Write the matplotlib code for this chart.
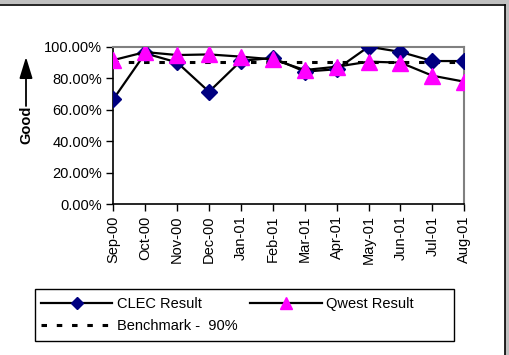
import matplotlib
matplotlib.use("Agg")
import matplotlib.pyplot as plt
from matplotlib.lines import Line2D
from matplotlib.patches import Rectangle
from matplotlib.ticker import FuncFormatter

months = ["Sep-00", "Oct-00", "Nov-00", "Dec-00", "Jan-01", "Feb-01",
          "Mar-01", "Apr-01", "May-01", "Jun-01", "Jul-01", "Aug-01"]
clec_result = [66.67, 95.8, 90.0, 71.43, 91.0, 92.86,
               84.2, 85.7, 100.0, 96.7, 90.9, 90.9]
qwest_result = [91.5, 96.6, 94.7, 95.1, 93.7, 92.0,
                85.2, 87.3, 90.5, 89.9, 81.6, 77.8]
benchmark = 90.0
y_ticks = [0, 20, 40, 60, 80, 100]

W, H = 509, 355
plt.rcParams["font.family"] = ["Liberation Sans", "DejaVu Sans"]

fig = plt.figure(figsize=(W / 100, H / 100), dpi=100)
fig.patch.set_facecolor("white")

# grey surround along the top and right edges, with the dark frame line
fig.patches.append(Rectangle((0, 1 - 4 / H), 1, 4 / H, transform=fig.transFigure,
                             facecolor="#c0c0c0", edgecolor="none", zorder=0))
fig.patches.append(Rectangle((1 - 4 / W, 0), 4 / W, 1, transform=fig.transFigure,
                             facecolor="#c0c0c0", edgecolor="none", zorder=0))
fig.lines.append(Line2D([0, 1 - 4.5 / W], [1 - 4.5 / H, 1 - 4.5 / H],
                        transform=fig.transFigure, color="black", lw=1.2))
fig.lines.append(Line2D([1 - 4.5 / W, 1 - 4.5 / W], [0, 1 - 4.5 / H],
                        transform=fig.transFigure, color="black", lw=1.2))

left, right, top, bottom = 113.3, 464.3, 46.7, 204.3
ax = fig.add_axes([left / W, 1 - bottom / H, (right - left) / W, (bottom - top) / H])

x = list(range(len(months)))
ax.plot(x, [benchmark] * len(x), color="black", lw=2.2,
        linestyle=(0, (1.8, 3.2)), zorder=2, label="Benchmark -  90%")
ax.plot(x, clec_result, color="black", lw=1.6, marker="D", markersize=8,
        markerfacecolor="#000080", markeredgecolor="#000080", zorder=3,
        label="CLEC Result")
ax.plot(x, qwest_result, color="black", lw=1.6, marker="^", markersize=11,
        markerfacecolor="#ff00ff", markeredgecolor="#ff00ff", zorder=4,
        label="Qwest Result")

ax.set_xlim(0, len(x) - 1)
ax.set_ylim(0, 100)
ax.set_yticks(y_ticks)
ax.yaxis.set_major_formatter(FuncFormatter(lambda v, p: f"{v:.2f}%"))
ax.set_xticks(x)
ax.set_xticklabels(months, rotation=90)
ax.tick_params(axis="both", labelsize=10.5, colors="black", length=5, width=1, pad=3)

for side in ("top", "right"):
    ax.spines[side].set_color("#808080")
    ax.spines[side].set_linewidth(1.5)
for side in ("left", "bottom"):
    ax.spines[side].set_color("black")
    ax.spines[side].set_linewidth(1.2)
for sp in ax.spines.values():
    sp.set_clip_on(False)

# "Good" direction indicator
fig.text(26 / W, 1 - 125 / H, "Good", rotation=90, fontsize=10.5, fontweight="bold",
         ha="center", va="center")
ax.annotate("", xy=(26, H - 57), xytext=(26, H - 106), xycoords="figure pixels",
            textcoords="figure pixels",
            arrowprops=dict(arrowstyle="-|>,head_length=1.3,head_width=0.4",
                            color="black", lw=1.3, shrinkA=0, shrinkB=0))

# legend box
box_l, box_t, box_r, box_b = 35, 289, 454, 341
fig.patches.append(Rectangle((box_l / W, 1 - box_b / H), (box_r - box_l) / W,
                             (box_b - box_t) / H, transform=fig.transFigure,
                             facecolor="white", edgecolor="black", lw=1.0, zorder=1))

handles, labels = ax.get_legend_handles_labels()
order = [1, 0, 2]
leg = fig.legend([handles[i] for i in order], [labels[i] for i in order],
                 loc="center left",
                 bbox_to_anchor=(box_l / W, 1 - box_b / H, (box_r - box_l) / W,
                                 (box_b - box_t) / H),
                 ncol=2, fontsize=10.5, frameon=False, markerscale=0.75,
                 handlelength=4.9, handletextpad=0.3, borderaxespad=0,
                 borderpad=0.4, labelspacing=0.6, columnspacing=0.9)

fig.savefig("out.png", dpi=100, facecolor=fig.get_facecolor())
